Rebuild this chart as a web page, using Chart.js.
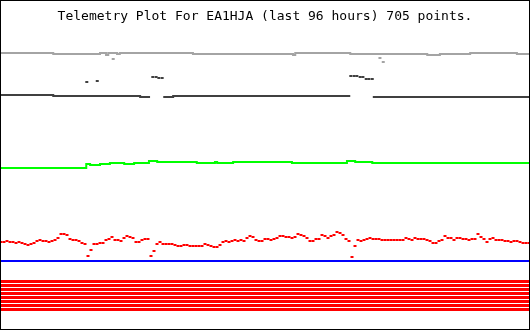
<!DOCTYPE html>
<html>
<head>
  <meta charset="UTF-8" />
  <title>Telemetry Plot For EA1HJA</title>
  <style>
    body {
      margin: 0;
      background-color: white;
    }
    #frame {
      width: 530px;
      height: 330px;
      box-sizing: border-box;
      border: 1px solid black;
    }
    canvas {
      display: block;
    }
  </style>
  <script src="https://cdn.jsdelivr.net/npm/chart.js"></script>
</head>
<body>

<div id="frame"><canvas id="telemetry" width="528" height="328"></canvas></div>

<script>
const titleText = "Telemetry Plot For EA1HJA (last 96 hours) 705 points.";
const spanHours = 96;

// grey channel: level holds until the next change
const greyHours = [0, 9.5, 18.0, 19.1, 19.5, 21.1, 21.6, 34.9, 53.1, 53.5, 63.5, 77.5, 79.8, 85.3, 93.8, 96];
const greyLevel = [276, 275, 276, 274, 276, 275, 276, 275, 274, 276, 275, 274, 275, 276, 275, 275];
const greyDotHours = [20.4, 68.9, 69.5];
const greyDotLevel = [270, 271, 267];

// dark channel, null = no samples on the main level
const darkHours = [0, 9.5, 25.3, 27.1, 27.2, 29.5, 31.3, 63.5, 63.6, 67.6, 96];
const darkLevel = [234, 233, 232, 232, null, 232, 233, 233, null, 232, 232];
const darkDotHours = [15.6, 17.5, 27.6, 28.2, 28.7, 29.3, 63.6, 64.2, 64.7, 65.3, 65.8, 66.4, 66.9, 67.5];
const darkDotLevel = [247, 248, 252, 252, 251, 251, 253, 253, 253, 252, 252, 250, 250, 250];

// green channel
const greenHours = [0, 15.5, 16.2, 18.0, 19.8, 22.4, 24.2, 26.9, 28.4, 35.6, 38.9, 39.3, 42.2, 52.9, 62.9, 64.4, 67.5, 96];
const greenLevel = [161, 165, 164, 165, 166, 165, 166, 168, 167, 166, 167, 166, 167, 166, 168, 167, 166, 166];

// red channel, one sample every 96/176 hours
const redLevel = [
  87, 87, 88, 87, 87, 86, 87, 86, 85, 84,
  85, 86, 88, 89, 88, 88, 87, 88, 89, 91,
  95, 95, 94, 90, 89, 89, 88, 86, 85, 73,
  79, 85, 85, 86, 86, 89, 90, 92, 89, 89,
  88, 91, 93, 92, 91, 87, 87, 89, 90, 90,
  73, 78, 85, 87, 85, 85, 85, 85, 84, 83,
  83, 84, 84, 83, 83, 83, 83, 83, 85, 84,
  83, 82, 82, 84, 87, 88, 87, 88, 89, 88,
  89, 88, 91, 93, 92, 89, 88, 88, 90, 90,
  89, 90, 91, 93, 93, 92, 92, 91, 92, 95,
  94, 93, 91, 88, 88, 90, 90, 94, 93, 91,
  93, 94, 97, 96, 94, 90, 88, 72, 83, 89,
  88, 89, 90, 91, 90, 90, 90, 89, 89, 89,
  89, 89, 89, 89, 89, 91, 90, 89, 91, 90,
  90, 90, 89, 88, 86, 86, 88, 89, 93, 91,
  91, 89, 91, 91, 90, 90, 89, 90, 90, 95,
  92, 90, 87, 90, 91, 89, 89, 89, 88, 88,
  87, 88, 88, 87, 86, 86, 86
];

// blue channel
const blueHours = [0, 96];
const blueLevel = [68, 68];

// status bits, each one a flat red band
const bitLevels = [47.5, 43.5, 39.5, 35.5, 31.5, 27.5, 23.5, 19.5];

function toPoints(hours, levels) {
  return hours.map((h, i) => ({ x: h, y: levels[i] }));
}

function stepLine(hours, levels, color, width) {
  return {
    data: toPoints(hours, levels),
    borderColor: color,
    borderWidth: width,
    stepped: true,
    pointRadius: 0
  };
}

function dashes(points, color) {
  return {
    data: points,
    showLine: false,
    pointStyle: "line",
    pointRadius: 1.5,
    pointBorderWidth: 2,
    pointBorderColor: color,
    pointBackgroundColor: color
  };
}

const redStep = spanHours / (redLevel.length - 1);
const redPoints = redLevel.map((v, i) => ({ x: i * redStep, y: v }));

const datasets = [
  stepLine(greyHours, greyLevel, "#a4a4a4", 2),
  dashes(toPoints(greyDotHours, greyDotLevel), "#a4a4a4"),
  stepLine(darkHours, darkLevel, "#404040", 2),
  dashes(toPoints(darkDotHours, darkDotLevel), "#404040"),
  stepLine(greenHours, greenLevel, "#00ff00", 2),
  dashes(redPoints, "#ff0000"),
  stepLine(blueHours, blueLevel, "#0000ff", 2)
];
bitLevels.forEach(v => {
  datasets.push(stepLine([0, spanHours], [v, v], "#ff0000", 3));
});

new Chart(document.getElementById("telemetry").getContext("2d"), {
  type: "line",
  data: { datasets: datasets },
  options: {
    responsive: false,
    animation: false,
    layout: { padding: 0, autoPadding: false },
    scales: {
      x: { type: "linear", min: 0, max: spanHours, display: false },
      y: { min: 0, max: 297, display: false }
    },
    plugins: {
      legend: { display: false },
      tooltip: { enabled: false },
      title: {
        display: true,
        text: titleText,
        color: "black",
        font: { family: "'DejaVu Sans Mono', monospace", size: 13, weight: "normal", lineHeight: 1.2 },
        padding: { top: 8, bottom: 7.4 }
      }
    }
  }
});
</script>

</body>
</html>
